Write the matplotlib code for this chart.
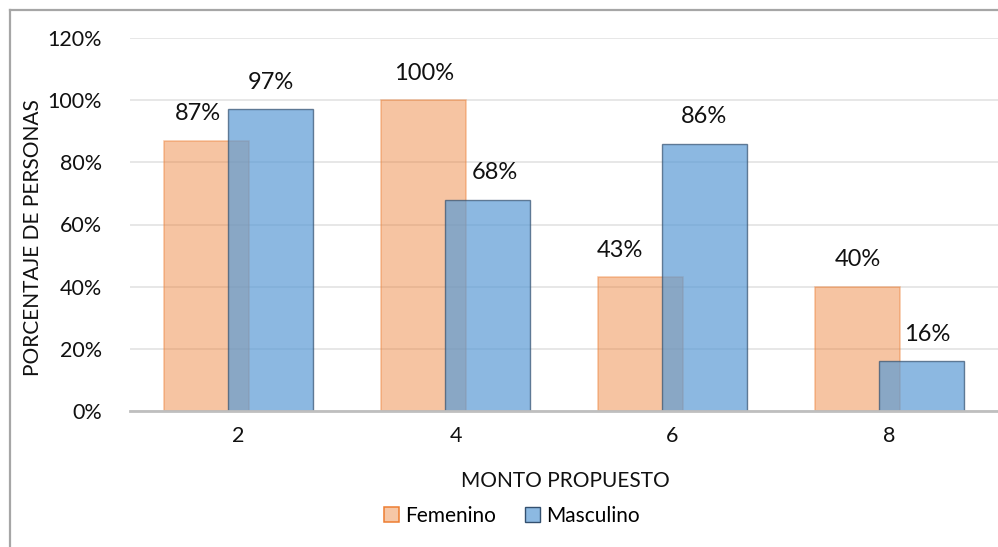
import matplotlib.pyplot as plt
from matplotlib.lines import Line2D
from matplotlib.ticker import FuncFormatter

plt.rcParams['font.family'] = ['Lato', 'DejaVu Sans']

montos = ['2', '4', '6', '8']
femenino = [87, 100, 43, 40]
masculino = [97, 68, 86, 16]

# small sideways nudges (px) so labels clear the neighbouring bar
fem_dx = [-9, 0, -21, 0]
mas_dx = [0, 7, 0, 6]

fig = plt.figure(figsize=(9.98, 5.47), dpi=100)
ax = fig.add_axes([130 / 998, 1 - 411 / 547, 868 / 998, (411 - 38) / 547])

x = range(len(montos))
w = 0.395
off = 0.147
fem_bars = ax.bar([i - off for i in x], femenino, width=w, color='#ED7D31', alpha=0.45,
                  edgecolor='#ED7D31', linewidth=1.1, zorder=2)
mas_bars = ax.bar([i + off for i in x], masculino, width=w, color='#5B9BD5', alpha=0.7,
                  edgecolor='#33506F', linewidth=1.0, zorder=3)

for b, v, dx in zip(fem_bars, femenino, fem_dx):
    ax.annotate('{}%'.format(v), (b.get_x() + b.get_width() / 2, v),
                xytext=(dx * 0.72, 19.5), textcoords='offset points',
                ha='center', va='center', fontsize=17, color='#111111')
for b, v, dx in zip(mas_bars, masculino, mas_dx):
    ax.annotate('{}%'.format(v), (b.get_x() + b.get_width() / 2, v),
                xytext=(dx * 0.72, 19.5), textcoords='offset points',
                ha='center', va='center', fontsize=17, color='#111111')

ax.set_xlim(-0.5, 3.5)
ax.set_ylim(0, 120)
ax.set_yticks(range(0, 121, 20))
ax.yaxis.set_major_formatter(FuncFormatter(lambda v, p: '{:.0f}%'.format(v)))
ax.set_xticks(list(x))
ax.set_xticklabels(montos)
ax.tick_params(length=0, labelsize=15.5, colors='#111111')
ax.tick_params(axis='y', pad=20)
ax.tick_params(axis='x', pad=11)
ax.grid(axis='y', color='#E3E3E3', linewidth=1.2, zorder=0)
ax.set_axisbelow(True)
for s in ['top', 'right', 'left']:
    ax.spines[s].set_visible(False)
ax.spines['bottom'].set_color('#BFBFBF')
ax.spines['bottom'].set_linewidth(2)
ax.spines['bottom'].set_zorder(4)

fig.text(33 / 998, 1 - 238 / 547, 'PORCENTAJE DE PERSONAS', rotation=90,
         ha='center', va='center', fontsize=15, color='#111111')
fig.text(565 / 998, 1 - 481 / 547, 'MONTO PROPUESTO', ha='center', va='center',
         fontsize=15, color='#111111')

handles = [plt.Rectangle((0, 0), 1, 1, facecolor='#F6C7A6', edgecolor='#ED7D31', linewidth=1.1),
           plt.Rectangle((0, 0), 1, 1, facecolor='#8CB9E2', edgecolor='#33506F', linewidth=1.0)]
fig.legend(handles, ['Femenino', 'Masculino'], loc='center', bbox_to_anchor=(512 / 998, 1 - 516 / 547),
           ncol=2, frameon=False, fontsize=15, handlelength=0.7, handleheight=0.7,
           handletextpad=0.3, columnspacing=1.4)

# chart frame
bx = 9.5 / 998
by = 1 - 9.5 / 547
fig.add_artist(Line2D([bx, bx], [0, by], color='#A6A6A6', linewidth=1.6, transform=fig.transFigure))
fig.add_artist(Line2D([bx, 1], [by, by], color='#A6A6A6', linewidth=1.6, transform=fig.transFigure))

fig.savefig('out.png', dpi=100)
